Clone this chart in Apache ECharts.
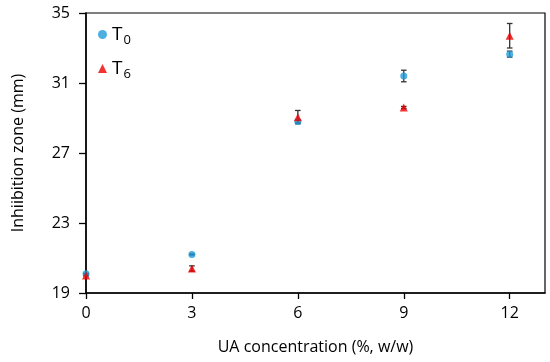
<!DOCTYPE html>
<html>
<head>
<meta charset="utf-8">
<script src="https://cdn.jsdelivr.net/npm/echarts@6/dist/echarts.min.js"></script>
<style>html,body{margin:0;padding:0;background:#fff;}#c{width:550px;height:362px;}</style>
</head>
<body>
<div id="c"></div>
<script>
var concentrations = [0, 3, 6, 9, 12];
var t0Values = [20.1, 21.2, 28.8, 31.4, 32.65];
var t0Errors = [0.03, 0.03, 0.08, 0.33, 0.17];
var t6Values = [20.0, 20.4, 29.05, 29.6, 33.7];
var t6Errors = [0.03, 0.15, 0.38, 0.06, 0.7];
var xTicks = [0, 3, 6, 9, 12];
var yTicks = [19, 23, 27, 31, 35];

var FONT = 'Open Sans';
function pts(vals) { return concentrations.map(function (c, i) { return [c, vals[i]]; }); }
function errData(vals, errs) { return concentrations.map(function (c, i) { return [c, vals[i] - errs[i], vals[i] + errs[i]]; }); }
function errSeries(vals, errs) {
  return {
    type: 'custom', z: 1, silent: true,
    data: errData(vals, errs),
    encode: { x: 0, y: [1, 2] },
    renderItem: function (params, api) {
      var lo = api.coord([api.value(0), api.value(1)]);
      var hi = api.coord([api.value(0), api.value(2)]);
      var w = 2.8;
      var st = { stroke: '#333', lineWidth: 1.3 };
      return { type: 'group', children: [
        { type: 'line', shape: { x1: lo[0], y1: lo[1], x2: hi[0], y2: hi[1] }, style: st },
        { type: 'line', shape: { x1: lo[0] - w, y1: lo[1], x2: lo[0] + w, y2: lo[1] }, style: st },
        { type: 'line', shape: { x1: hi[0] - w, y1: hi[1], x2: hi[0] + w, y2: hi[1] }, style: st }
      ]};
    }
  };
}
var chart = echarts.init(document.getElementById('c'));
chart.setOption({
  animation: false,
  grid: { left: 86, right: 5, top: 13, bottom: 69, show: true, borderColor: '#000', borderWidth: 1.2 },
  legend: {
    orient: 'vertical', left: 93, top: 20, itemGap: 12, itemWidth: 9, itemHeight: 9,
    data: [{ name: 'T0', icon: 'circle' }, { name: 'T6', icon: 'triangle' }],
    formatter: function (n) { return '{a|T}{b|' + n.slice(1) + '}'; },
    textStyle: { fontFamily: FONT, color: '#000', rich: {
      a: { fontSize: 19, fontFamily: FONT, color: '#000', lineHeight: 20 },
      b: { fontSize: 13, fontFamily: FONT, color: '#000', padding: [12, 0, 0, 1] }
    } }
  },
  xAxis: {
    type: 'value', min: 0, max: 13,
    name: 'UA concentration (%, w/w)', nameLocation: 'middle', nameGap: 46,
    nameTextStyle: { fontFamily: FONT, fontSize: 16, color: '#000' },
    axisLine: { lineStyle: { color: '#000', width: 1.5 } },
    axisTick: { show: true, length: 6, customValues: xTicks, lineStyle: { color: '#000', width: 1.3 } },
    axisLabel: { customValues: xTicks, fontFamily: FONT, fontSize: 16, color: '#000', margin: 12 },
    splitLine: { show: false }
  },
  yAxis: {
    type: 'value', min: 19, max: 35,
    name: 'Inhiibition zone (mm)', nameLocation: 'middle', nameGap: 60,
    nameTextStyle: { fontFamily: FONT, fontSize: 16, color: '#000' },
    axisLine: { show: true, lineStyle: { color: '#000', width: 1.5 } },
    axisTick: { show: true, length: 7, customValues: yTicks, lineStyle: { color: '#000', width: 1.3 } },
    axisLabel: { customValues: yTicks, fontFamily: FONT, fontSize: 16, color: '#000', margin: 16 },
    splitLine: { show: false }
  },
  series: [
    errSeries(t0Values, t0Errors),
    errSeries(t6Values, t6Errors),
    { name: 'T0', type: 'scatter', z: 3, symbol: 'circle', symbolSize: 7, itemStyle: { color: '#1f9bd8' }, data: pts(t0Values) },
    { name: 'T6', type: 'scatter', z: 4, symbol: 'triangle', symbolSize: 8, itemStyle: { color: '#f00000' }, data: pts(t6Values) }
  ]
});
</script>
</body>
</html>
